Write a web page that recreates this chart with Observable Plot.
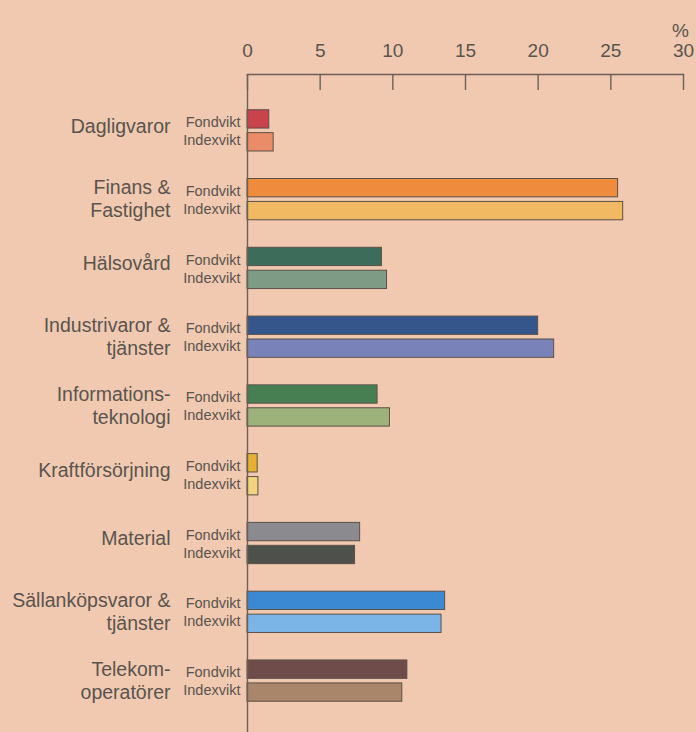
<!DOCTYPE html>
<html><head><meta charset="utf-8">
<script src="https://cdn.jsdelivr.net/npm/d3@7"></script>
<script src="https://cdn.jsdelivr.net/npm/@observablehq/plot@0.6"></script>
<style>
html,body{margin:0;padding:0;background:#f0c9b0;}
#chart{width:696px;height:732px;}
</style>
</head><body><div id="chart"></div>
<script>
const categories = ["Dagligvaror","Finans & Fastighet","Hälsovård","Industrivaror & tjänster","Informations-teknologi","Kraftförsörjning","Material","Sällanköpsvaror & tjänster","Telekom-operatörer"];
const labelLines = [["Dagligvaror"],["Finans &","Fastighet"],["Hälsovård"],["Industrivaror &","tjänster"],["Informations-","teknologi"],["Kraftförsörjning"],["Material"],["Sällanköpsvaror &","tjänster"],["Telekom-","operatörer"]];
const series = ["Fondvikt","Indexvikt"];
const fondvikt  = [1.5, 25.5, 9.25, 20.0, 8.95, 0.7, 7.75, 13.6, 11.0];
const indexvikt = [1.8, 25.85, 9.6, 21.1, 9.8, 0.75, 7.4, 13.35, 10.65];
const fondColors  = ["#c8434b","#ee8b3c","#3e6c5b","#34568b","#477f52","#e6b032","#8b8b8f","#3b89d2","#6f4b49"];
const indexColors = ["#ea8c68","#f1ba62","#7e9b86","#7a82ba","#9db27a","#f2d47c","#4d504b","#7bb5e7","#a98569"];
const xTicks = [0,5,10,15,20,25,30];
const axisLabel = "%";

const rows = [];
categories.forEach((c,i)=>{
  rows.push({cat:c, series:series[0], key:c+"|"+series[0], value:fondvikt[i], color:fondColors[i]});
  rows.push({cat:c, series:series[1], key:c+"|"+series[1], value:indexvikt[i], color:indexColors[i]});
});
const yDomain = categories.flatMap(c=>[c+"|"+series[0], c+"|"+series[1], c+"|gap"]);
const catLabels = [];
categories.forEach((c,i)=>{
  const L = labelLines[i];
  if (L.length === 1) catLabels.push({key:c+"|"+series[0], text:L[0], single:true});
  else {
    catLabels.push({key:c+"|"+series[0], text:L[0], single:false});
    catLabels.push({key:c+"|"+series[1], text:L[1], single:false});
  }
});

const ink = "#5a544f";
const line = "#6a615a";
const font = "Liberation Sans, Arial, Helvetica, sans-serif";

const chart = Plot.plot({
  width: 696,
  height: 732,
  marginTop: 74,
  marginBottom: 0,
  marginLeft: 247,
  marginRight: 13,
  style: {background: "transparent", fontFamily: font},
  x: {domain: [0, 30], axis: null},
  y: {type: "band", domain: yDomain, paddingInner: 0.2, paddingOuter: 0.95, align: 0.82, round: false, axis: null},
  color: {type: "identity"},
  marks: [
    Plot.barX(rows, {x: "value", y: "key", fill: "color", stroke: "#5b5149", strokeWidth: 1}),
    Plot.ruleX([0], {stroke: line, strokeWidth: 1.4}),
    Plot.ruleX(xTicks, {stroke: line, strokeWidth: 1.4, insetBottom: 642}),
    Plot.frame({anchor: "top", stroke: line, strokeWidth: 1.4}),
    Plot.axisX(xTicks, {anchor: "top", tickSize: 0, tickPadding: 18, fontSize: 19, fill: ink, label: null, fontFamily: font}),
    Plot.text([axisLabel], {x: [30], text: d => d, frameAnchor: "top", dy: -51, dx: -3, fontSize: 19, fill: ink, fontFamily: font}),
    Plot.text(catLabels.filter(d => d.single), {y: "key", text: "text", frameAnchor: "left", dx: -77, dy: 7, textAnchor: "end", fontSize: 19.5, fill: ink, fontFamily: font}),
    Plot.text(catLabels.filter(d => !d.single), {y: "key", text: "text", frameAnchor: "left", dx: -77, textAnchor: "end", fontSize: 19.5, fill: ink, fontFamily: font}),
    Plot.text(rows.filter(d => d.series === series[0]), {y: "key", text: "series", frameAnchor: "left", dx: -7, dy: 3, textAnchor: "end", fontSize: 14.5, fill: ink, fontFamily: font}),
    Plot.text(rows.filter(d => d.series === series[1]), {y: "key", text: "series", frameAnchor: "left", dx: -7, dy: -2, textAnchor: "end", fontSize: 14.5, fill: ink, fontFamily: font})
  ]
});
document.getElementById("chart").append(chart);
</script>
</body></html>
